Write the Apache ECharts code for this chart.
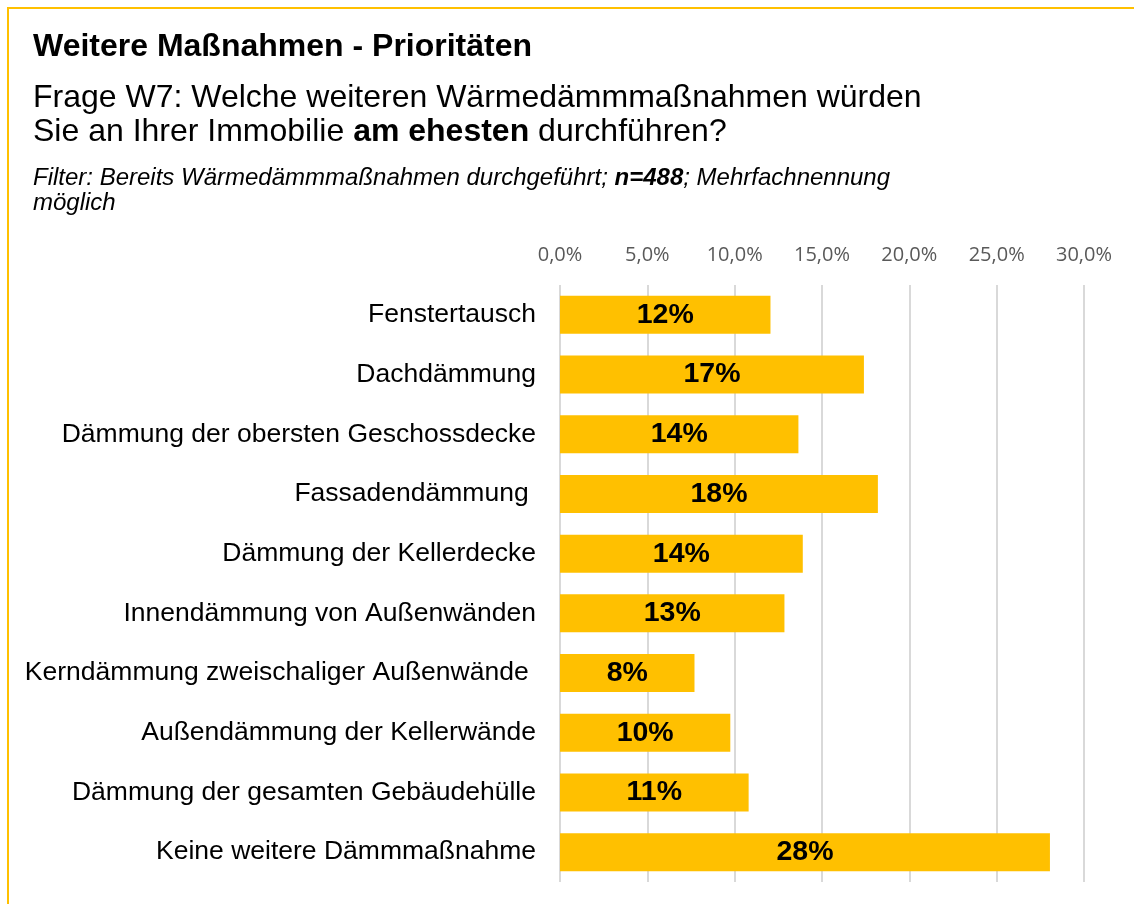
<!DOCTYPE html>
<html>
<head>
<meta charset="utf-8">
<script src="https://cdn.jsdelivr.net/npm/echarts@6/dist/echarts.min.js"></script>
<style>
    html, body { margin: 0; padding: 0; background: #fff; }
    #chart { width: 1134px; height: 904px; }
</style>
</head>
<body>
<div id="chart"></div>
<script>
// Kategorien (von oben nach unten)
const categories = [
    'Fenstertausch',
    'Dachdämmung',
    'Dämmung der obersten Geschossdecke',
    'Fassadendämmung ',
    'Dämmung der Kellerdecke',
    'Innendämmung von Außenwänden',
    'Kerndämmung zweischaliger Außenwände ',
    'Außendämmung der Kellerwände',
    'Dämmung der gesamten Gebäudehülle',
    'Keine weitere Dämmmaßnahme'
];

// Anteile in Prozent
const shares = [12.05, 17.4, 13.65, 18.2, 13.9, 12.85, 7.7, 9.75, 10.8, 28.05];

// Achsenbereich
const axisMin = 0;
const axisMax = 30;
const axisStep = 5;

const gold = '#FFC000';
const font = 'Liberation Sans, Arial, sans-serif';

const chart = echarts.init(document.getElementById('chart'));

const option = {
    backgroundColor: '#fff',
    animation: false,
    title: [{
        text: 'Weitere Maßnahmen - Prioritäten',
        left: 33,
        top: 31,
        padding: 0,
        textStyle: { fontFamily: font, fontSize: 32, fontWeight: 'bold', color: '#000' }
    }, {
        text: '{n|Frage W7: Welche weiteren Wärmedämmmaßnahmen würden}\n{n|Sie an Ihrer Immobilie }{b|am ehesten}{n| durchführen?}',
        left: 33,
        top: 81,
        padding: 0,
        textStyle: {
            fontWeight: 'normal',
            rich: {
                n: { fontFamily: font, fontSize: 32, lineHeight: 34, fontWeight: 'normal', color: '#000' },
                b: { fontFamily: font, fontSize: 32, lineHeight: 34, fontWeight: 'bold', color: '#000' }
            }
        }
    }, {
        text: '{i|Filter: Bereits Wärmedämmmaßnahmen durchgeführt; }{ib|n=488}{i|; Mehrfachnennung}\n{i|möglich}',
        left: 33,
        top: 166,
        padding: 0,
        textStyle: {
            fontWeight: 'normal',
            rich: {
                i: { fontFamily: font, fontSize: 24, lineHeight: 25, fontStyle: 'italic', fontWeight: 'normal', color: '#000' },
                ib: { fontFamily: font, fontSize: 24, lineHeight: 25, fontStyle: 'italic', fontWeight: 'bold', color: '#000' }
            }
        }
    }],
    graphic: [{
        type: 'polyline',
        shape: { points: [[8, 904], [8, 8], [1134, 8]] },
        style: { stroke: gold, lineWidth: 2, fill: null }
    }],
    grid: {
        left: 560,
        right: 50,
        top: 285,
        bottom: 22
    },
    xAxis: {
        type: 'value',
        position: 'top',
        min: axisMin,
        max: axisMax,
        interval: axisStep,
        axisLine: { show: false },
        axisTick: { show: false },
        splitLine: { lineStyle: { color: '#D9D9D9', width: 2 } },
        axisLabel: {
            color: '#595959',
            fontFamily: 'Open Sans, sans-serif',
            fontSize: 20,
            margin: 20,
            formatter: (v) => v.toFixed(1).replace('.', ',') + '%'
        }
    },
    yAxis: {
        type: 'category',
        data: categories,
        inverse: true,
        axisLine: { show: false },
        axisTick: { show: false },
        axisLabel: {
            color: '#000',
            fontFamily: font,
            fontSize: 26.5,
            margin: 24
        }
    },
    series: [{
        type: 'bar',
        data: shares,
        barWidth: 38,
        itemStyle: { color: gold },
        label: {
            show: true,
            position: 'inside',
            color: '#000',
            fontFamily: font,
            fontSize: 28.5,
            fontWeight: 'bold',
            formatter: (p) => Math.round(p.value) + '%'
        }
    }]
};

chart.setOption(option);
</script>
</body>
</html>
